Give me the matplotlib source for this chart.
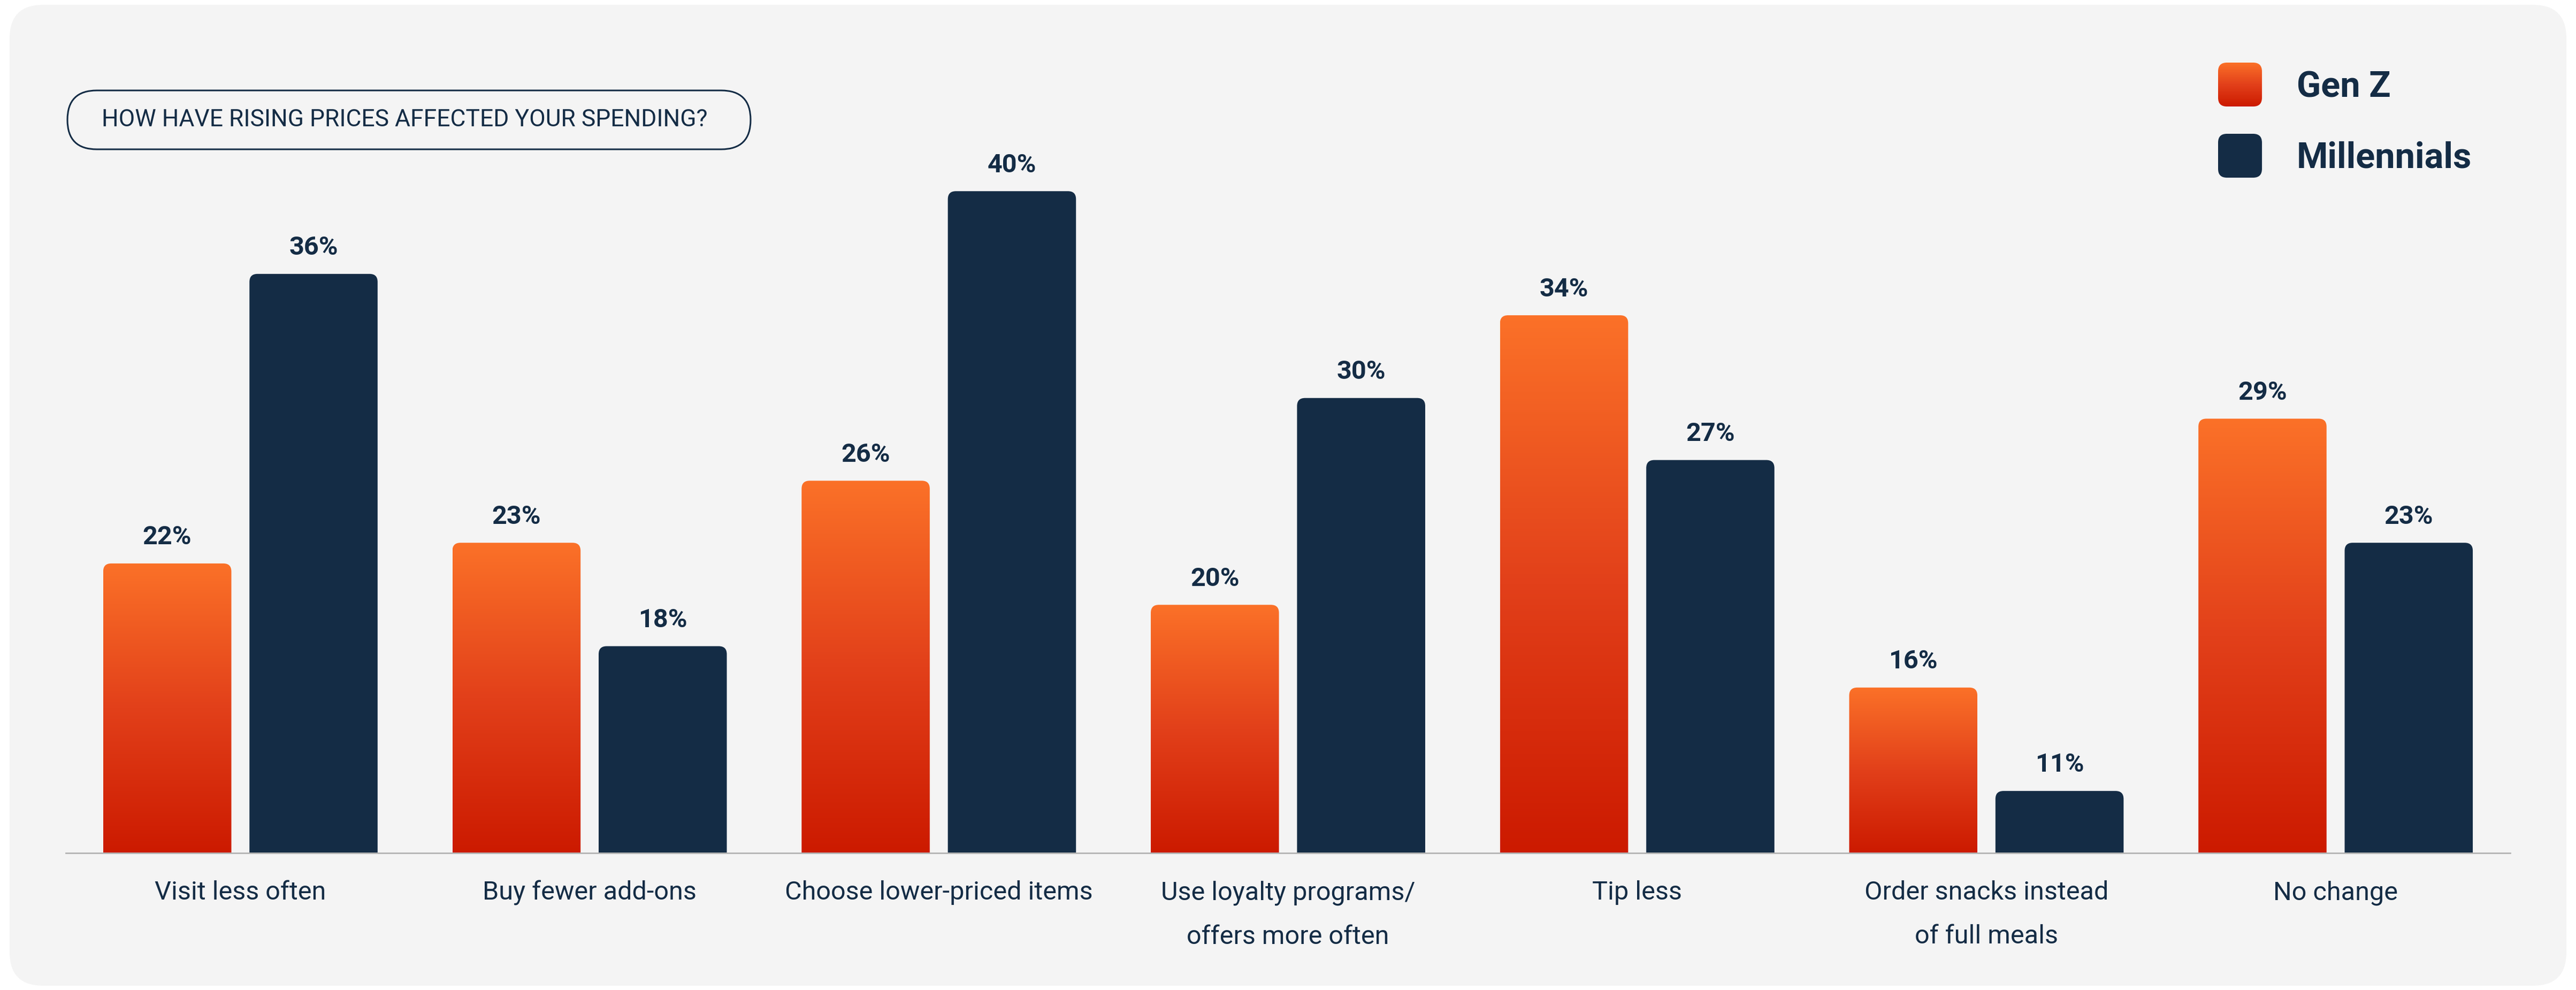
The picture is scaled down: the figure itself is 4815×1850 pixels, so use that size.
import numpy as np
import matplotlib.pyplot as plt
from matplotlib.patches import FancyBboxPatch
from matplotlib.colors import LinearSegmentedColormap

# data
categories = ["Visit less often", "Buy fewer add-ons", "Choose lower-priced items",
              "Use loyalty programs/\noffers more often", "Tip less",
              "Order snacks instead\nof full meals", "No change"]
gen_z = [22, 23, 26, 20, 34, 16, 29]
millennials = [36, 18, 40, 30, 27, 11, 23]
series_names = ["Gen Z", "Millennials"]
question = "HOW HAVE RISING PRICES AFFECTED YOUR SPENDING?"

NAVY = '#142c45'
CARD = '#f4f4f4'
orange = LinearSegmentedColormap.from_list('orange', ['#cc1a00', '#e2401a', '#fb7128'])

plt.rcParams['font.family'] = ['Roboto', 'DejaVu Sans']

W, H = 4815, 1850
fig = plt.figure(figsize=(W / 100, H / 100), dpi=100)
fig.patch.set_facecolor('white')

# rounded grey card behind everything
card = FancyBboxPatch((18 / W, 8 / H), (4797 - 18) / W, (1841 - 8) / H,
                      boxstyle='round,pad=0,rounding_size=0.013', mutation_aspect=W / H,
                      transform=fig.transFigure, facecolor=CARD, edgecolor='none', zorder=-10)
fig.patches.append(card)

ax = fig.add_axes([123 / W, (H - 1594) / H, (4692 - 123) / W, 1430 / H])
ax.set_facecolor('none')
ymin, ymax = 8, 45
ax.set_xlim(-0.5, len(categories) - 0.5)
ax.set_ylim(ymin, ymax)

x = np.arange(len(categories))
width = 0.367
off = 0.2094
b1 = ax.bar(x - off, gen_z, width, color='none')
b2 = ax.bar(x + off, millennials, width, color='none')

# rounding radius in pixels -> data units
pxx = ax.bbox.width / (len(categories))
pxy = ax.bbox.height / (ymax - ymin)
r = 15 / pxx
asp = pxx / pxy
grad = np.linspace(0, 1, 256).reshape(-1, 1)

for rect in b1:
    x0, h, w = rect.get_x(), rect.get_height(), rect.get_width()
    p = FancyBboxPatch((x0, 0), w, h, boxstyle='round,pad=0,rounding_size=%f' % r,
                       mutation_aspect=asp, facecolor='none', edgecolor='none')
    ax.add_patch(p)
    im = ax.imshow(grad, extent=(x0, x0 + w, ymin, h), cmap=orange, origin='lower',
                   aspect='auto', zorder=2)
    im.set_clip_path(p)

for rect in b2:
    x0, h, w = rect.get_x(), rect.get_height(), rect.get_width()
    p = FancyBboxPatch((x0, 0), w, h, boxstyle='round,pad=0,rounding_size=%f' % r,
                       mutation_aspect=asp, facecolor=NAVY, edgecolor='none', zorder=2)
    ax.add_patch(p)

ax.set_xlim(-0.5, len(categories) - 0.5)
ax.set_ylim(ymin, ymax)

for xs, vals in ((x - off, gen_z), (x + off, millennials)):
    for xi, v in zip(xs, vals):
        ax.annotate('%d%%' % v, (xi, v), xytext=(0, 35), textcoords='offset points',
                    ha='center', va='center', fontsize=35, fontweight='bold', color=NAVY)

ax.set_xticks(x)
ax.set_xticklabels(categories, fontsize=35, color=NAVY, linespacing=2.0)
ax.tick_params(axis='x', length=0, pad=37)
ax.set_yticks([])
for s in ['left', 'top', 'right']:
    ax.spines[s].set_visible(False)
ax.spines['bottom'].set_color('#b4b4b4')
ax.spines['bottom'].set_linewidth(2)
ax.spines['bottom'].set_zorder(3)

# question pill
pill = FancyBboxPatch((126 / W, (H - 279) / H), (1403 - 126) / W, 110 / H,
                      boxstyle='round,pad=0,rounding_size=%f' % (55 / W), mutation_aspect=W / H,
                      transform=fig.transFigure, facecolor='none', edgecolor=NAVY, lw=2.2)
fig.patches.append(pill)
fig.text(190 / W, (H - 224) / H, question, ha='left', va='center', fontsize=32, color=NAVY)

# legend
for i, name in enumerate(series_names):
    top = [117, 250][i]
    lax = fig.add_axes([4146 / W, (H - top - 82) / H, 82 / W, 82 / H])
    lax.axis('off')
    lax.set_xlim(0, 1)
    lax.set_ylim(0, 1)
    sq = FancyBboxPatch((0, 0), 1, 1, boxstyle='round,pad=0,rounding_size=0.2',
                        facecolor=NAVY if i else 'none', edgecolor='none')
    lax.add_patch(sq)
    if i == 0:
        im = lax.imshow(grad, extent=(0, 1, 0, 1), cmap=orange, origin='lower', aspect='auto')
        im.set_clip_path(sq)
    fig.text(4293 / W, (H - top - 46) / H, name, ha='left', va='center', fontsize=48,
             fontweight='bold', color=NAVY)

fig.savefig('out.png', dpi=100, facecolor='white')
